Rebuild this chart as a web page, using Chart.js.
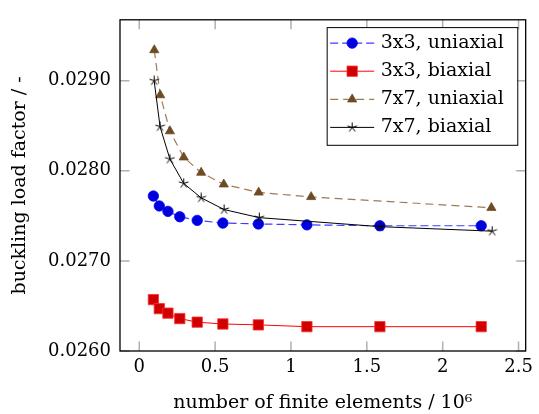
<!DOCTYPE html>
<html>
<head>
<meta charset="utf-8">
<script src="https://cdn.jsdelivr.net/npm/chart.js@4.4.1/dist/chart.umd.min.js"></script>
<style>
  html, body { margin: 0; padding: 0; background: #fff; }
  #wrap { width: 539px; height: 414px; }
</style>
</head>
<body>
<div id="wrap"><canvas id="chart" width="539" height="414"></canvas></div>
<script>
// ── Data ──────────────────────────────────────────────
const x3 = [0.093, 0.132, 0.189, 0.267, 0.382, 0.551, 0.785, 1.105, 1.586, 2.254];
const uni3 = [0.02772, 0.02761, 0.02755, 0.02749, 0.02745, 0.02742, 0.02741, 0.02740, 0.02739, 0.02739];
const bi3 = [0.02657, 0.02647, 0.02642, 0.02636, 0.02632, 0.02630, 0.02629, 0.02627, 0.02627, 0.02627];

const x7uni = [0.099, 0.138, 0.202, 0.293, 0.408, 0.557, 0.787, 1.133, 2.321];
const uni7 = [0.02934, 0.02884, 0.02844, 0.02815, 0.02798, 0.02785, 0.02776, 0.02771, 0.02759];
const x7bi = [0.098, 0.137, 0.202, 0.293, 0.408, 0.559, 0.791, 1.588, 2.326];
const bi7 = [0.02900, 0.02849, 0.02813, 0.02786, 0.02770, 0.02757, 0.02748, 0.02738, 0.02733];

const labels = ['3x3, uniaxial', '3x3, biaxial', '7x7, uniaxial', '7x7, biaxial'];
const xTicks = [0, 0.5, 1, 1.5, 2, 2.5];
const yTicks = [0.026, 0.027, 0.028, 0.029];

const FONT = 'DejaVu Serif';
const pts = (xs, ys) => xs.map((x, i) => ({ x, y: ys[i] }));

// 5-armed star marker like pgfplots "star"
function makeStar() {
  const c = document.createElement('canvas');
  c.width = 11; c.height = 11;
  const g = c.getContext('2d');
  g.strokeStyle = '#000';
  g.lineWidth = 1;
  for (let k = 0; k < 5; k++) {
    const a = -Math.PI / 2 + k * 2 * Math.PI / 5;
    g.beginPath();
    g.moveTo(5.5, 5.5);
    g.lineTo(5.5 + Math.cos(a) * 5, 5.5 + Math.sin(a) * 5);
    g.stroke();
  }
  return c;
}
const starImg = makeStar();

// ── Frame, inside ticks and pgfplots-like legend ──────
const framePlugin = {
  id: 'frame',
  afterDatasetsDraw(chart) {
    const { ctx, chartArea: a, scales } = chart;
    ctx.save();
    ctx.strokeStyle = '#b0b0b0';
    ctx.lineWidth = 1.5;
    const tl = 9.5;
    xTicks.forEach(v => {
      const px = scales.x.getPixelForValue(v);
      ctx.beginPath();
      ctx.moveTo(px, a.bottom); ctx.lineTo(px, a.bottom - tl);
      ctx.moveTo(px, a.top); ctx.lineTo(px, a.top + tl);
      ctx.stroke();
    });
    yTicks.forEach(v => {
      const py = scales.y.getPixelForValue(v);
      ctx.beginPath();
      ctx.moveTo(a.left, py); ctx.lineTo(a.left + tl, py);
      ctx.moveTo(a.right, py); ctx.lineTo(a.right - tl, py);
      ctx.stroke();
    });
    ctx.strokeStyle = '#000';
    ctx.lineWidth = 1.3;
    ctx.strokeRect(a.left, a.top, a.right - a.left, a.bottom - a.top);

    // legend
    const bw = 190.6, bh = 117.7;
    const bx = a.right - 8.4 - bw, by = a.top + 7.3;
    ctx.fillStyle = '#fff';
    ctx.fillRect(bx, by, bw, bh);
    ctx.lineWidth = 1;
    ctx.strokeRect(bx + 0.5, by + 0.5, bw, bh);
    chart.data.datasets.forEach((ds, i) => {
      const cy = by + 16 + 28.1 * i;
      ctx.setLineDash(ds.borderDash || []);
      ctx.strokeStyle = ds.borderColor;
      ctx.lineWidth = ds.borderWidth;
      ctx.beginPath();
      ctx.moveTo(bx + 3.5, cy); ctx.lineTo(bx + 47.5, cy);
      ctx.stroke();
      ctx.setLineDash([]);
      ctx.fillStyle = ds.pointBackgroundColor;
      ctx.strokeStyle = ds.pointBorderColor;
      ctx.lineWidth = ds.pointBorderWidth;
      Chart.helpers.drawPoint(ctx, {
        pointStyle: ds.pointStyle, radius: ds.pointRadius, rotation: 0, borderWidth: ds.pointBorderWidth
      }, bx + 25.5, cy);
      ctx.fillStyle = '#000';
      ctx.font = `19px "${FONT}"`;
      ctx.textBaseline = 'middle';
      ctx.fillText(ds.label, bx + 54, cy);
    });
    ctx.restore();
  }
};

// ── Chart ─────────────────────────────────────────────
new Chart(document.getElementById('chart'), {
  type: 'line',
  data: {
    datasets: [
      {
        label: labels[0], data: pts(x3, uni3), order: 4,
        borderColor: '#3c3cff', borderWidth: 1.2, borderDash: [8, 4],
        pointStyle: 'circle', pointRadius: 5.2,
        pointBackgroundColor: '#0000dd', pointBorderColor: '#0000ff', pointBorderWidth: 0.8
      },
      {
        label: labels[1], data: pts(x3, bi3), order: 3,
        borderColor: '#ff0000', borderWidth: 1,
        pointStyle: 'rect', pointRadius: 7.3,
        pointBackgroundColor: '#d00000', pointBorderColor: '#ff3030', pointBorderWidth: 0.8
      },
      {
        label: labels[2], data: pts(x7uni, uni7), order: 2,
        borderColor: '#9c7a58', borderWidth: 1.2, borderDash: [8, 5],
        pointStyle: 'triangle', pointRadius: 5.3,
        pointBackgroundColor: '#6e4b24', pointBorderColor: '#6e4b24', pointBorderWidth: 0.8
      },
      {
        label: labels[3], data: pts(x7bi, bi7), order: 1,
        borderColor: '#000000', borderWidth: 1,
        pointStyle: starImg, pointRadius: 5,
        pointBackgroundColor: '#000', pointBorderColor: '#000', pointBorderWidth: 1
      }
    ]
  },
  options: {
    responsive: false,
    animation: false,
    events: [],
    layout: { padding: { top: 11, right: 8, left: 0, bottom: 0 } },
    elements: { line: { tension: 0 } },
    plugins: { legend: { display: false }, tooltip: { enabled: false } },
    scales: {
      x: {
        type: 'linear',
        min: -0.127, max: 2.547,
        afterBuildTicks: s => { s.ticks = xTicks.map(v => ({ value: v })); },
        afterFit: s => { s.height = 63; },
        grid: { display: false, drawTicks: false },
        border: { display: false },
        ticks: {
          padding: 6, color: '#000',
          font: { family: FONT, size: 18 },
          callback: v => String(v)
        },
        title: {
          display: true, text: 'number of finite elements / 10⁶', color: '#000',
          font: { family: FONT, size: 19, lineHeight: 1 },
          padding: { top: 2, bottom: 1 }
        }
      },
      y: {
        type: 'linear',
        min: 0.026, max: 0.029676,
        afterBuildTicks: s => { s.ticks = yTicks.map(v => ({ value: v })); },
        afterFit: s => { s.width = 120; },
        grid: { display: false, drawTicks: false },
        border: { display: false },
        ticks: {
          padding: 9, color: '#000',
          font: { family: FONT, size: 18 },
          callback: v => v.toFixed(4)
        },
        title: {
          display: true, text: 'buckling load factor / -', color: '#000',
          font: { family: FONT, size: 19, lineHeight: 1 },
          padding: { top: 11, bottom: 0 }
        }
      }
    }
  },
  plugins: [framePlugin]
});
</script>
</body>
</html>
